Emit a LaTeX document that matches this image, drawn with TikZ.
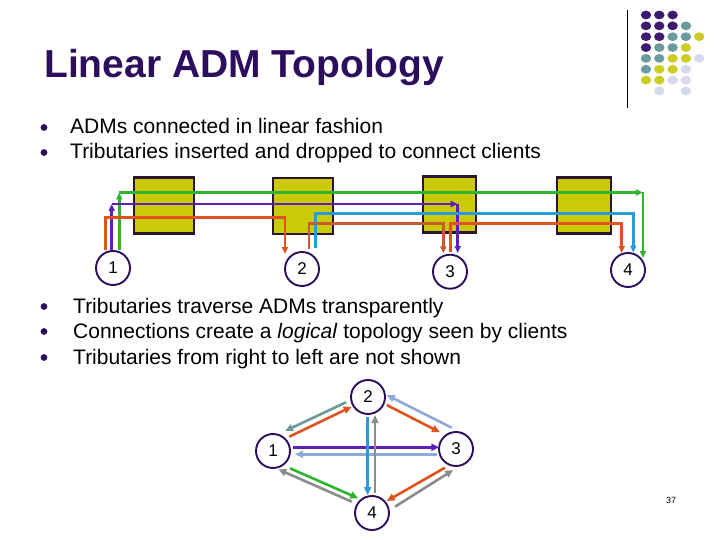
\documentclass[tikz,border=0pt]{standalone}
\usepackage{fontspec}
\setmainfont{Liberation Sans}
\usetikzlibrary{arrows.meta}

\definecolor{titlepurple}{HTML}{2D0E5E}
\definecolor{admfill}{HTML}{CACA08}
\definecolor{admborder}{HTML}{2A1630}
\definecolor{tgreen}{HTML}{2DB52D}
\definecolor{tpurple}{HTML}{5E1FB8}
\definecolor{tred}{HTML}{E0521E}
\definecolor{tbrown}{HTML}{C85A32}
\definecolor{tblue}{HTML}{2A9ADC}
\definecolor{tteal}{HTML}{6B9A9A}
\definecolor{tlight}{HTML}{8EA9DA}
\definecolor{tgray}{HTML}{8C8C8C}
\definecolor{dotP}{HTML}{3D1A6E}
\definecolor{dotT}{HTML}{6B9B9E}
\definecolor{dotY}{HTML}{CCCC22}
\definecolor{dotL}{HTML}{D8D8EC}

\begin{document}
\begin{tikzpicture}[x=1pt,y=-1pt,
  adm/.style={draw=admborder,fill=admfill,line width=2.2pt,minimum height=56pt,inner sep=0pt},
  client/.style={draw=titlepurple,circle,line width=1.9pt,minimum size=34pt,inner sep=0pt,
    font=\fontsize{17}{17}\selectfont},
  trib/.style={line width=2.5pt,-{Triangle[length=7pt,width=6pt]}},
  link/.style={line width=2.6pt,-{Triangle[length=8pt,width=7pt]}},
  bullet/.style={anchor=base west,inner sep=0pt,font=\fontsize{21}{25}\selectfont}]
\useasboundingbox (0,0) rectangle (720,540);

% title and logo
\node[anchor=base west,inner sep=0pt,font=\fontsize{39}{40}\selectfont\bfseries,text=titlepurple] (title) at (44,78) {Linear ADM Topology};
\draw[line width=0.9pt] (627,10) -- (627,108);
\foreach \i/\j/\c in {0/0/dotP,1/0/dotP,2/0/dotP,
  0/1/dotP,1/1/dotP,2/1/dotP,3/1/dotT,
  0/2/dotP,1/2/dotP,2/2/dotT,3/2/dotT,4/2/dotY,
  0/3/dotP,1/3/dotT,2/3/dotT,3/3/dotY,
  0/4/dotT,1/4/dotT,2/4/dotY,3/4/dotY,4/4/dotL,
  0/5/dotT,1/5/dotY,2/5/dotY,3/5/dotL,
  0/6/dotY,1/6/dotY,2/6/dotL,3/6/dotL,
  1/7/dotL,3/7/dotL}
  \fill[\c] (646+13.3*\i,15+10.85*\j) ellipse [x radius=5.2,y radius=4.4];

% bullets
\foreach \y in {127.5,152.5,306.5,331.5,357.5}
  \fill[titlepurple] (44,\y) circle (3.4);
\node[bullet] (t1) at (70,134) {ADMs connected in linear fashion};
\node[bullet] (t2) at (70,159) {Tributaries inserted and dropped to connect clients};
\node[bullet] (t3) at (73,313) {Tributaries traverse ADMs transparently};
\node[bullet] (t4) at (73,338) {Connections create a \textit{logical} topology seen by clients};
\node[bullet] (t5) at (73,364) {Tributaries from right to left are not shown};

% ADMs and clients
\node[adm,minimum width=60pt] (adm1) at (164,205.5) {};
\node[adm,minimum width=60pt] (adm2) at (303,206) {};
\node[adm,minimum width=53pt] (adm3) at (449.3,204.5) {};
\node[adm,minimum width=54pt] (adm4) at (584,205.5) {};
\node[client] (c1) at (113,268) {1};
\node[client] (c2) at (302,269) {2};
\node[client] (c3) at (450,271.7) {3};
\node[client] (c4) at (628,270) {4};

% tributaries
\coordinate (g1) at (119.3,192.5);
\coordinate (g2) at (643,192.5);
\coordinate (g3) at (643,258);
\draw[trib,tgreen] ([xshift=6.3pt]c1.north) -- (g1);
\draw[trib,tgreen] (g1) -- (g2);
\draw[trib,tgreen] (g2) -- (g3);
\coordinate (p1) at (111.7,204);
\coordinate (p2) at (457.7,204);
\coordinate (p3) at (457.7,253);
\draw[trib,tpurple] ([xshift=-1.3pt]c1.north) -- (p1);
\draw[trib,tpurple] (p1) -- (p2);
\draw[trib,tpurple] (p2) -- (p3);
\coordinate (r1) at (285,217.7);
\coordinate (r2) at (285,254);
\draw[trib,tred] ([xshift=-7.5pt]c1.north) |- (r1) -- (r2);
\coordinate (b1) at (633.3,213.3);
\coordinate (b2) at (633.3,252.7);
\draw[trib,tblue] ([shift={(13.7,-3)}]c2.north) |- (b1) -- (b2);
\coordinate (o1) at (443.3,223.3);
\coordinate (o2) at (443.3,253.3);
\draw[trib,tbrown] ([shift={(7,-2)}]c2.north) |- (o1) -- (o2);
\coordinate (q1) at (621.7,223.3);
\coordinate (q2) at (621.7,253);
\draw[trib,tred] ([shift={(0.7,-2)}]c3.north) |- (q1) -- (q2);

% logical topology
\node[client] (d1) at (273,451) {1};
\node[client] (d2) at (368,397) {2};
\node[client] (d3) at (456,449) {3};
\node[client] (d4) at (372,513) {4};
\draw[link,tteal] ([shift={(-22,5.3)}]d2.center) -- ([shift={(12,-20)}]d1.center);
\draw[link,tred] ([shift={(16.3,-14.3)}]d1.center) -- ([shift={(-16.3,9.7)}]d2.center);
\draw[link,tlight] ([shift={(-4.3,-21.3)}]d3.center) -- ([shift={(18.7,-2)}]d2.center);
\draw[link,tred] ([shift={(18.7,8)}]d2.center) -- ([shift={(-16,-16.7)}]d3.center);
\draw[link,tpurple] ([shift={(20.3,-3.7)}]d1.center) -- ([shift={(-16.7,-1.7)}]d3.center);
\draw[link,tlight] ([shift={(-19.3,5.3)}]d3.center) -- ([shift={(22,3.3)}]d1.center);
\draw[link,tblue] ([shift={(-0.3,19.7)}]d2.center) -- ([shift={(-4.3,-18)}]d4.center);
\draw[link,tgray] ([shift={(3,-19.7)}]d4.center) -- ([shift={(7,18)}]d2.center);
\draw[link,tgreen] ([shift={(17,17.3)}]d1.center) -- ([shift={(-13.7,-14.7)}]d4.center);
\draw[link,tgray] ([shift={(-20.3,-11.3)}]d4.center) -- ([shift={(5.3,18.3)}]d1.center);
\draw[link,tred] ([shift={(-11,18.7)}]d3.center) -- ([shift={(14.7,-12)}]d4.center);
\draw[link,tgray] ([shift={(23,-6.3)}]d4.center) -- ([shift={(-2.7,21)}]d3.center);

\node[font=\fontsize{9}{9}\selectfont] (pnum) at (671,500) {37};
\end{tikzpicture}
\end{document}
